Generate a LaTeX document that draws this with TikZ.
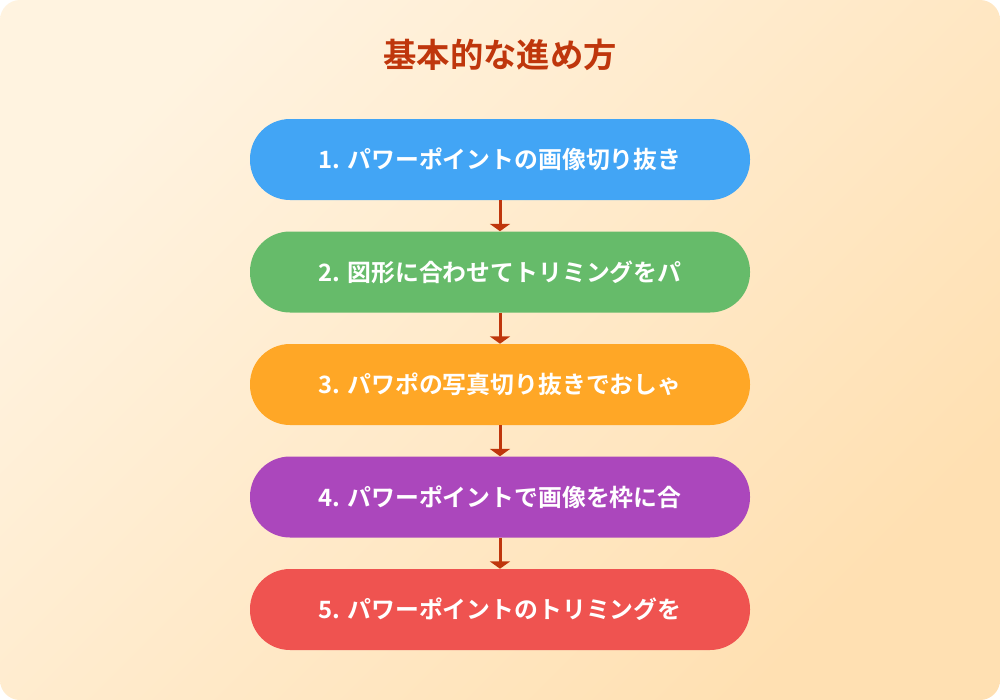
\documentclass[tikz,border=0pt]{standalone}
\usepackage{fontspec}
\newfontfamily\cjk{Noto Sans CJK JP}[BoldFont={Noto Sans CJK JP Bold}]
\usetikzlibrary{arrows.meta}
\definecolor{bgA}{HTML}{FFF3E0}
\definecolor{bgB}{HTML}{FFE0B2}
\definecolor{titlec}{HTML}{BF360C}
\definecolor{c1}{HTML}{42A5F5}
\definecolor{c2}{HTML}{66BB6A}
\definecolor{c3}{HTML}{FFA726}
\definecolor{c4}{HTML}{AB47BC}
\definecolor{c5}{HTML}{EF5350}
\begin{document}
\begin{tikzpicture}[x=0.75pt,y=-0.75pt,
  stepbox/.style={rounded corners=30pt,minimum width=375pt,minimum height=60.75pt,
    inner sep=0pt,text=white,font=\cjk\bfseries\fontsize{17.9}{22}\selectfont},
  flow/.style={draw=titlec,line width=2.25pt,-{Triangle[width=15pt,length=5.5pt]}}]
\useasboundingbox (0,0) rectangle (1000,700);
\fill[white] (0,0) rectangle (1000,700);
\shade[rounded corners=15pt,left color=bgA,right color=bgB,shading angle=45] (0,0) rectangle (1000,700);
\node[text=titlec,font=\cjk\bfseries\fontsize{25}{30}\selectfont] (title) at (500,55) {基本的な進め方};
\node[stepbox,fill=c1] (s1) at (500,159.5) {1. パワーポイントの画像切り抜き};
\node[stepbox,fill=c2] (s2) at (500,272) {2. 図形に合わせてトリミングをパ};
\node[stepbox,fill=c3] (s3) at (500,384.5) {3. パワポの写真切り抜きでおしゃ};
\node[stepbox,fill=c4] (s4) at (500,497) {4. パワーポイントで画像を枠に合};
\node[stepbox,fill=c5] (s5) at (500,609.5) {5. パワーポイントのトリミングを};
\draw[flow] (s1) -- (s2);
\draw[flow] (s2) -- (s3);
\draw[flow] (s3) -- (s4);
\draw[flow] (s4) -- (s5);
\end{tikzpicture}
\end{document}
